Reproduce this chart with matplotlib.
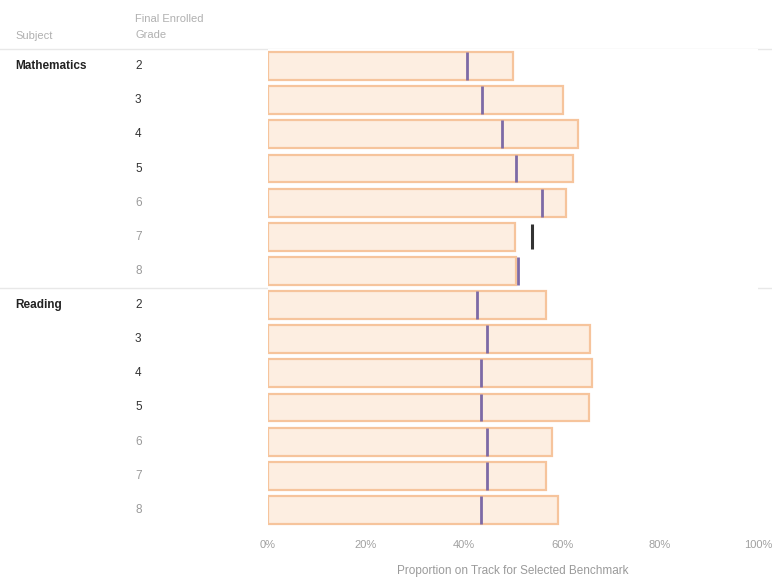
import matplotlib
matplotlib.use("Agg")
import matplotlib.pyplot as plt
import matplotlib.transforms as mtransforms

# Data
subjects = ["Mathematics", "Reading"]
grades = ["2", "3", "4", "5", "6", "7", "8"]
math_on_track = [50.1, 60.2, 63.3, 62.3, 60.9, 50.5, 50.7]
math_benchmark = [40.6, 43.6, 47.7, 50.7, 56.0, 53.8, 51.1]
reading_on_track = [56.8, 65.7, 66.1, 65.5, 58.0, 56.8, 59.2]
reading_benchmark = [42.6, 44.6, 43.4, 43.4, 44.6, 44.6, 43.4]
tick_values = [0, 20, 40, 60, 80, 100]
tick_labels = ["0%", "20%", "40%", "60%", "80%", "100%"]

plt.rcParams["font.family"] = ["Liberation Sans", "DejaVu Sans"]

W, H = 772, 578
fig = plt.figure(figsize=(W / 100, H / 100), dpi=100)
fig.patch.set_facecolor("white")

ax = fig.add_axes([268 / W, (H - 527) / H, (758 - 268) / W, (527 - 49) / H])
ax.set_xlim(0, 100)
ax.set_ylim(13.5, -0.5)

bar_fill = "#fdeee1"
bar_edge = "#f6c49c"
marker_col = "#7d6aa6"

values = math_on_track + reading_on_track
marks = math_benchmark + reading_benchmark
rows = list(range(len(values)))

ax.barh(rows, values, height=0.82, color=bar_fill, edgecolor=bar_edge,
        linewidth=1.6, zorder=2)

for i, (r, m) in enumerate(zip(rows, marks)):
    if m - values[i] > 1.0:
        # benchmark well beyond the bar end: short dark tick
        ax.plot([m, m], [r - 0.36, r + 0.36], color="#333333", lw=2.2,
                solid_capstyle="butt", zorder=3)
    else:
        ax.plot([m, m], [r - 0.41, r + 0.41], color=marker_col, lw=2,
                solid_capstyle="butt", zorder=3)

for s in ax.spines.values():
    s.set_visible(False)
ax.set_yticks([])
ax.set_xticks(tick_values)
ax.set_xticklabels(tick_labels, color="#a0a0a0", fontsize=8)
ax.tick_params(axis="x", length=0, pad=9)
ax.set_xlabel("Proportion on Track for Selected Benchmark", color="#9a9a9a",
              fontsize=8.5, labelpad=11)

trans = mtransforms.blended_transform_factory(fig.transFigure, ax.transData)

# Header and group separators spanning the whole figure width
for y in (-0.5, 6.5):
    fig.add_artist(plt.Line2D([0, 1], [y, y], transform=trans,
                              color="#e8e8e8", lw=1, zorder=0))

# Column headers
fig.text(15 / W, 1 - 36 / H, "Subject", color="#b0b0b0", fontsize=8,
         va="center", ha="left")
fig.text(135 / W, 1 - 19 / H, "Final Enrolled", color="#b0b0b0", fontsize=8,
         va="center", ha="left")
fig.text(135 / W, 1 - 35 / H, "Grade", color="#b0b0b0", fontsize=8,
         va="center", ha="left")

# Row labels
for k, subj in enumerate(subjects):
    ax.text(15 / W, k * len(grades), subj, transform=trans, fontsize=8.5,
            fontweight="bold", color="#222222", va="center", ha="left")
    for j, g in enumerate(grades):
        col = "#333333" if j < 4 else "#9a9a9a"
        ax.text(135 / W, k * len(grades) + j, g, transform=trans,
                fontsize=8.5, color=col, va="center", ha="left")

fig.savefig("out.png", dpi=100, facecolor="white")
